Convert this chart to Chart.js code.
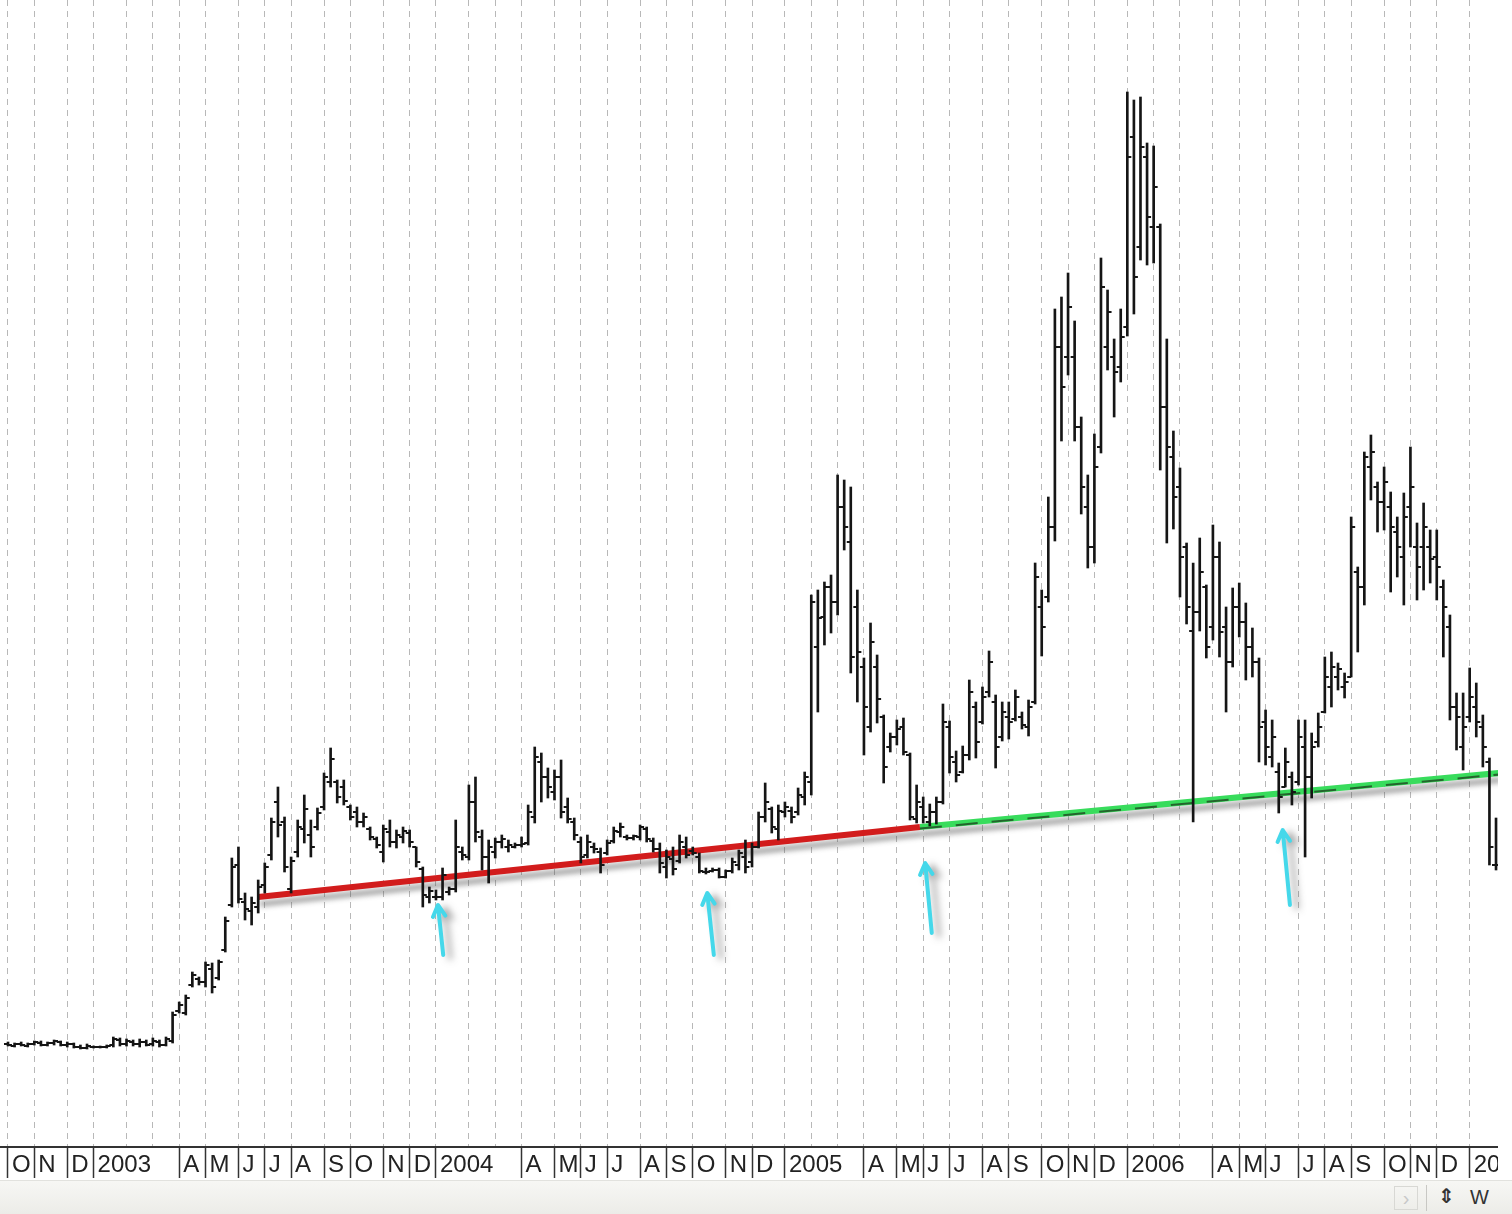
<!DOCTYPE html>
<html lang="en">
<head>
<meta charset="UTF-8">
<title>Weekly bar chart with support lines</title>
<script src="https://cdn.jsdelivr.net/npm/chart.js"></script>
<style>
    * { margin: 0; padding: 0; box-sizing: border-box; }
    body { background: #fff; font-family: 'Liberation Sans', Arial, sans-serif; }
    .wrap { position: relative; width: 1512px; height: 1214px; overflow: hidden; background: #fff; }
    #chart { position: absolute; left: 0; top: 0; }
    .status {
        position: absolute; left: 0; top: 1180px; width: 1512px; height: 34px;
        background: linear-gradient(#f7f7f4, #ecece8);
        border-top: 1px solid #e2e2de;
    }
    .status .nav {
        position: absolute; left: 1394px; top: 5px; width: 24px; height: 24px;
        border: 1px solid #d8d8d4; color: #c8c8c8; font-size: 20px; line-height: 22px; text-align: center;
    }
    .status .sep { position: absolute; left: 1426px; top: 4px; width: 1px; height: 26px; background: #c8c8c4; }
    .status .sync { position: absolute; left: 1438px; top: 3px; font-size: 20px; font-weight: bold; color: #333; font-family: 'DejaVu Sans', sans-serif; }
    .status .per { position: absolute; left: 1470px; top: 5px; font-size: 20px; color: #333; }
</style>
</head>
<body>
<div class="wrap">
    <canvas id="chart" width="1498" height="1180"></canvas>
    <div class="status">
        <span class="nav">›</span>
        <span class="sep"></span>
        <span class="sync">⇕</span>
        <span class="per">W</span>
    </div>
</div>

<script>
// weekly bars, week 0 = first week of October 2002
const high = [
    105,104,105,104,106,106,105,107,106,105,104,102,103,101,101,102,110,109,108,107,108,107,109,107,110,
    135,145,152,175,170,185,184,187,230,289,
    300,254,250,267,284,329,360,330,290,327,
    352,327,339,374,399,367,367,342,340,334,
    320,310,322,327,317,320,317,300,280,260,
    257,279,260,327,300,362,370,317,307,309,
    312,307,304,310,342,400,394,379,377,387,
    349,329,310,312,304,299,307,320,324,312,
    312,322,320,309,304,297,300,312,310,300,
    294,279,279,279,277,289,297,307,304,335,
    364,340,342,345,340,359,375,552,557,565,
    572,672,667,660,557,489,524,492,432,414,
    427,429,394,362,350,343,350,443,426,396,
    401,467,445,460,496,452,445,445,457,435,
    447,584,557,650,838,850,874,826,730,672,
    713,889,857,808,838,1055,1047,1050,1004,1001,
    923,808,716,679,604,584,609,562,622,605,
    540,559,564,544,519,489,437,427,384,399,
    375,427,427,414,434,490,495,484,474,630,
    580,695,712,665,680,655,630,654,700,624,
    644,617,617,567,532,454,454,479,464,432,
    389,329
];
const low = [
    101,100,101,100,102,101,101,102,101,100,99,98,98,99,99,99,100,101,101,101,100,101,101,100,101,
    104,134,132,160,162,160,154,167,195,240,
    244,227,222,234,254,287,310,275,254,290,
    304,290,317,337,360,344,342,327,320,320,
    307,299,285,300,299,304,300,280,240,244,
    247,247,252,255,287,287,305,277,264,289,
    299,295,299,300,302,324,345,349,347,329,
    324,307,284,289,294,274,292,304,310,307,
    307,307,305,295,274,269,272,284,289,292,
    274,273,275,269,269,274,277,274,280,299,
    325,314,307,330,324,332,342,352,435,502,
    514,532,597,474,445,392,415,424,364,395,
    402,392,327,324,324,321,323,343,374,365,
    374,387,389,423,450,379,406,408,426,418,
    411,443,491,545,606,706,772,706,633,579,
    584,694,777,730,765,811,833,887,882,884,
    677,604,618,550,523,325,516,489,507,490,
    435,480,510,467,470,385,382,380,334,360,
    342,362,290,349,400,434,440,457,449,470,
    495,542,647,615,617,555,570,542,600,547,
    557,564,547,490,427,397,377,425,410,380,
    282,277
];
const open = [
    103,101,103,101,103,104,102,104,105,102,103,100,99,100,100,100,102,107,103,105,103,105,103,105,102,
    106,136,134,162,168,165,178,169,197,242,
    282,245,236,240,262,292,345,325,258,295,
    318,312,320,340,365,365,360,340,335,325,
    318,308,295,315,305,310,314,300,278,250,
    250,250,255,258,295,290,345,310,290,295,
    305,300,300,302,304,330,385,370,355,370,
    340,325,305,292,300,295,294,306,315,310,
    309,310,318,306,298,280,288,286,300,296,
    290,275,276,277,270,276,282,290,285,300,
    330,338,318,335,336,335,350,365,500,530,
    560,545,640,605,540,480,420,480,430,400,
    410,420,392,328,340,325,335,345,420,385,
    375,392,440,425,455,445,410,430,428,430,
    420,445,540,550,620,800,790,790,720,640,
    600,700,800,790,780,820,1010,900,990,920,
    920,740,690,660,600,516,535,560,520,590,
    520,485,540,525,500,485,425,390,375,360,
    370,365,400,370,405,435,460,470,460,470,
    575,560,680,660,645,640,615,590,640,600,
    600,600,590,560,520,440,400,430,440,420,
    385,282
];
const close = [
    102,103,102,103,105,102,104,106,102,103,100,99,101,100,100,101,108,103,106,103,105,102,106,102,108,
    132,142,149,172,165,182,160,185,226,280,
    248,238,244,260,280,325,322,280,286,320,
    338,300,334,370,388,350,346,330,325,330,
    310,302,318,305,312,316,305,285,252,256,
    250,272,258,300,292,345,315,290,300,305,
    308,302,302,303,335,390,370,360,370,335,
    328,312,290,305,298,282,304,316,320,309,
    311,320,308,298,284,290,278,305,292,294,
    276,275,277,270,276,285,294,280,300,330,
    345,320,336,340,330,352,370,545,529,560,
    545,640,620,490,495,440,505,448,380,410,
    418,395,330,345,330,335,345,425,390,372,
    392,455,405,450,485,400,435,425,450,422,
    440,570,520,620,800,760,840,720,660,600,
    680,860,835,775,810,990,870,1000,930,960,
    740,700,650,590,540,535,575,500,590,515,
    485,540,525,500,485,420,400,410,350,385,
    355,410,370,400,420,470,480,478,465,620,
    560,690,695,645,665,620,600,630,660,580,
    620,588,580,540,440,430,420,450,425,400,
    300,282
];

// first week of each month, and the label shown for it
const monthTicks = [0,4,9,13,18,22,26,30,35,39,43,48,52,57,61,65,70,74,78,83,87,91,96,100,104,109,113,
    118,122,126,130,135,139,143,148,152,157,161,165,170,174,178,183,187,191,196,200,204,209,213,217,222];
const monthLabels = ['O','N','D','2003','','','A','M','J','J','A','S','O','N','D','2004','','','A','M','J','J','A','S','O','N','D',
    '2005','','','A','M','J','J','A','S','O','N','D','2006','','','A','M','J','J','A','S','O','N','D','2007'];

// trend lines (week, price)
const redLineX = [38, 138.5];
const redLineY = [250, 320];
const greenLineX = [138.5, 226.5];
const greenLineY = [320, 374];

// cyan arrows under the touch points
const arrowTipX = [65.3, 106.2, 139.3, 193.6];
const arrowTipY = [242, 254, 284, 317];
const arrowTailX = [66.1, 107.2, 140.3, 194.7];
const arrowTailY = [192, 192, 214, 242];

const xMin = -1.215;
const xMax = 226.3;

const weeks = high.map((_, i) => i);

const decor = {
    id: 'decor',
    beforeDatasetDraw(chart, args) {
        const ds = chart.data.datasets[args.index];
        if (ds.shadow) {
            const c = chart.ctx;
            c.save();
            c.shadowColor = 'rgba(70,70,70,0.45)';
            c.shadowOffsetX = 2;
            c.shadowOffsetY = 7;
            c.shadowBlur = 5;
        }
    },
    afterDatasetDraw(chart, args) {
        if (chart.data.datasets[args.index].shadow) chart.ctx.restore();
    },
    afterDatasetsDraw(chart) {
        const {ctx, scales: {x, y}} = chart;
        ctx.save();
        ctx.strokeStyle = '#45d8ea';
        ctx.lineWidth = 4;
        ctx.lineCap = 'round';
        ctx.lineJoin = 'round';
        ctx.shadowColor = 'rgba(80,80,80,0.5)';
        ctx.shadowOffsetX = 7;
        ctx.shadowOffsetY = 3;
        ctx.shadowBlur = 7;
        arrowTipX.forEach((ax, i) => {
            const x1 = x.getPixelForValue(ax), y1 = y.getPixelForValue(arrowTipY[i]);
            const x0 = x.getPixelForValue(arrowTailX[i]), y0 = y.getPixelForValue(arrowTailY[i]);
            const ang = Math.atan2(y1 - y0, x1 - x0);
            const len = 13;
            ctx.beginPath();
            ctx.moveTo(x0, y0);
            ctx.lineTo(x1, y1);
            ctx.moveTo(x1 - len * Math.cos(ang - 0.5), y1 - len * Math.sin(ang - 0.5));
            ctx.lineTo(x1, y1);
            ctx.lineTo(x1 - len * Math.cos(ang + 0.5), y1 - len * Math.sin(ang + 0.5));
            ctx.stroke();
        });
        ctx.restore();
    }
};

const ctx = document.getElementById('chart').getContext('2d');
new Chart(ctx, {
    type: 'bar',
    data: {
        datasets: [{
            type: 'bar',
            label: 'High-Low',
            data: weeks.map(i => ({x: i, y: [low[i], high[i]]})),
            backgroundColor: '#151515',
            borderWidth: 0,
            barThickness: 2,
            order: 1
        }, {
            type: 'scatter',
            label: 'Open',
            data: weeks.map(i => ({x: i, y: open[i]})),
            pointStyle: 'dash',
            rotation: 180,
            radius: 4,
            borderWidth: 2,
            borderColor: '#151515',
            order: 0
        }, {
            type: 'scatter',
            label: 'Close',
            data: weeks.map(i => ({x: i, y: close[i]})),
            pointStyle: 'dash',
            rotation: 0,
            radius: 4,
            borderWidth: 2,
            borderColor: '#151515',
            order: 0
        }, {
            type: 'line',
            label: 'Support 2003-2005',
            data: redLineX.map((v, i) => ({x: v, y: redLineY[i]})),
            borderColor: '#d21c1c',
            borderWidth: 6,
            pointRadius: 0,
            shadow: true,
            order: 6
        }, {
            type: 'line',
            label: 'Support 2005-2006',
            data: greenLineX.map((v, i) => ({x: v, y: greenLineY[i]})),
            borderColor: '#38dc5c',
            borderWidth: 6,
            pointRadius: 0,
            shadow: true,
            order: 6
        }, {
            type: 'line',
            label: 'Support dashes',
            data: greenLineX.map((v, i) => ({x: v, y: greenLineY[i] - 1.5})),
            borderColor: 'rgba(30,60,30,0.75)',
            borderWidth: 2,
            borderDash: [22, 14],
            pointRadius: 0,
            order: 5
        }]
    },
    options: {
        responsive: false,
        animation: false,
        events: [],
        layout: { padding: 0, autoPadding: false },
        plugins: {
            legend: { display: false },
            tooltip: { enabled: false }
        },
        scales: {
            x: {
                type: 'linear',
                min: xMin,
                max: xMax,
                offset: false,
                grid: {
                    offset: false,
                    color: '#b8b8b8',
                    lineWidth: 1,
                    tickLength: 31,
                    tickWidth: 1.5,
                    tickColor: c => monthLabels[c.index] ? '#333' : 'rgba(0,0,0,0)'
                },
                border: { display: true, color: '#333', width: 2, dash: [6, 5] },
                ticks: {
                    autoSkip: false,
                    maxRotation: 0,
                    align: 'start',
                    labelOffset: 4,
                    padding: -27,
                    color: '#222',
                    font: { family: "'Liberation Sans', Arial, sans-serif", size: 24 },
                    callback: (v, i) => monthLabels[i]
                },
                afterBuildTicks: s => { s.ticks = monthTicks.map(v => ({value: v})); },
                afterFit: s => {
                    s.height = 33;
                    s.paddingLeft = 0;
                    s.paddingRight = 0;
                }
            },
            y: {
                display: false,
                min: 0,
                max: 1147
            }
        }
    },
    plugins: [decor]
});
</script>
</body>
</html>
